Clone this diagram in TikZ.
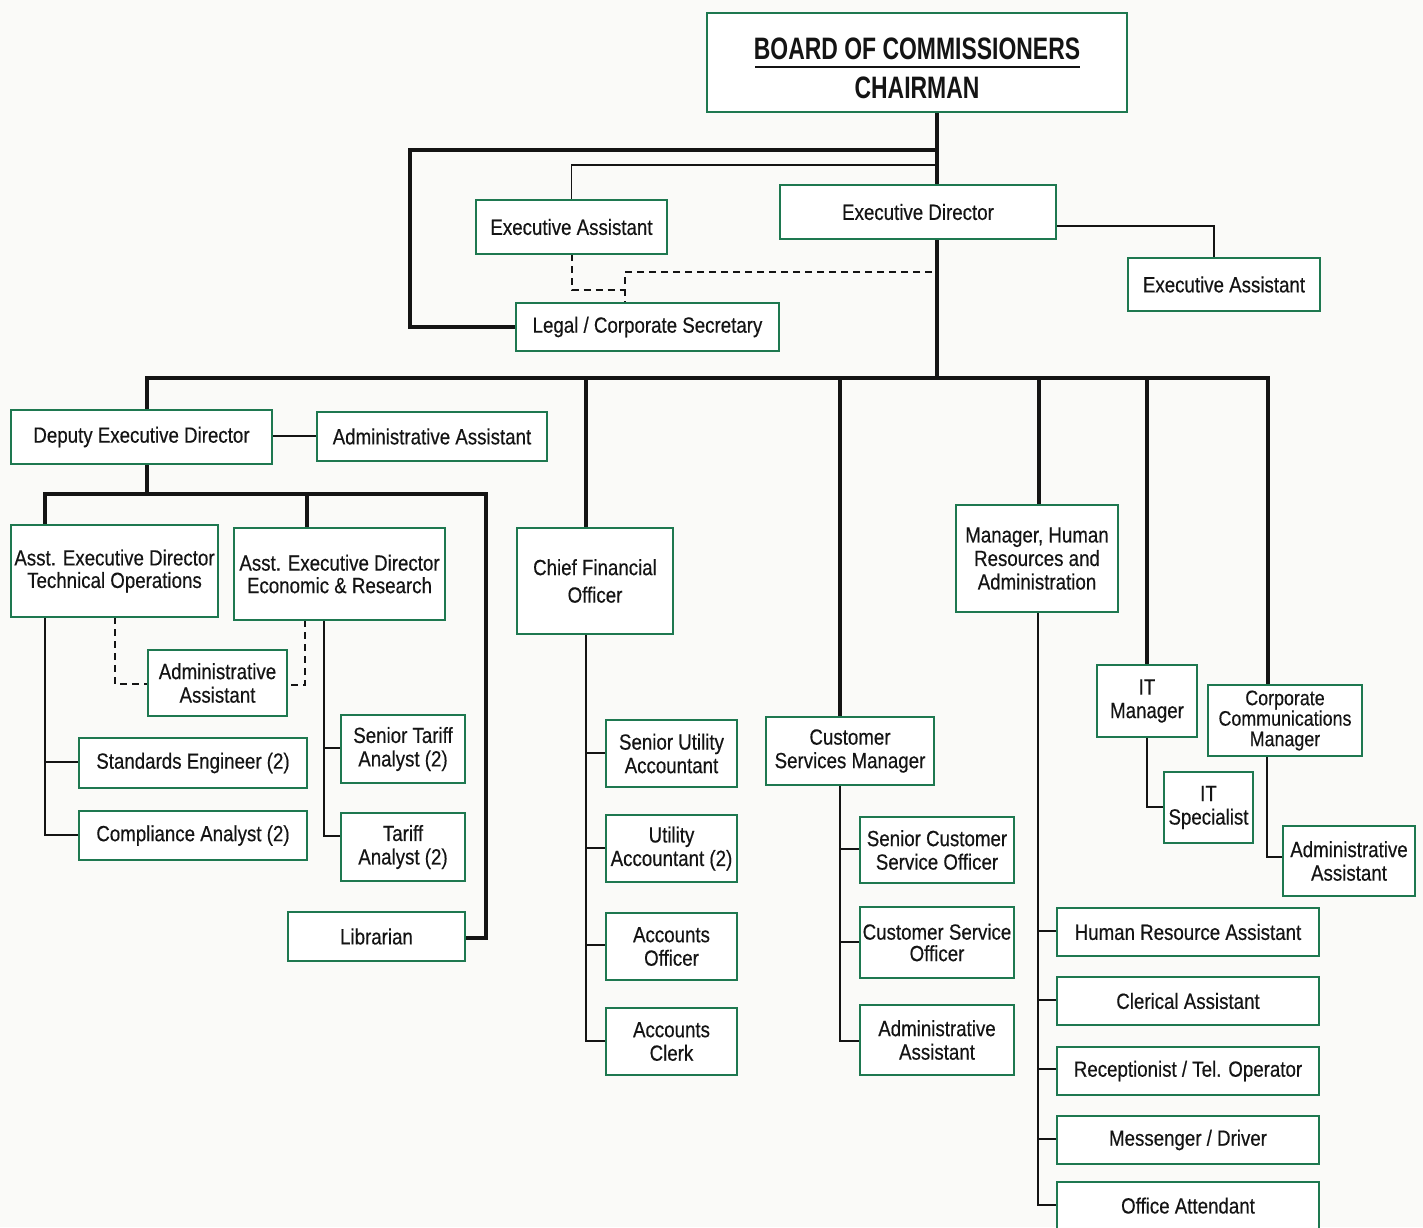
\documentclass[tikz,border=0pt]{standalone}
\usepackage{fontspec}
\setmainfont{Liberation Sans}[FakeStretch=0.85,FakeBold=0.4]
\newfontfamily\titlefont{Liberation Sans}[FakeStretch=0.74]
\definecolor{boxgreen}{RGB}{30,120,80}
\definecolor{ink}{RGB}{20,20,20}
\definecolor{paper}{RGB}{250,250,248}
\newcommand\bx[7][]{%
  \pgfmathsetmacro\bxcx{(#3+#5)/2}\pgfmathsetmacro\bxcy{(#4+#6)/2}%
  \pgfmathsetmacro\bxw{#5-#3}\pgfmathsetmacro\bxh{#6-#4}%
  \node[box,minimum width=\bxw pt,minimum height=\bxh pt,#1] (#2) at (\bxcx,\bxcy) {#7};}
\tikzset{
  box/.style={draw=boxgreen, line width=2.2pt, fill=white, inner sep=0pt, align=center,
    text=ink, font=\fontsize{22}{23.5}\selectfont},
  thickln/.style={draw=ink, line width=4pt},
  thinln/.style={draw=ink, line width=1.8pt},
  dashln/.style={draw=ink, line width=2pt, dash pattern=on 7pt off 5pt},
  titletxt/.style={font=\titlefont\fontsize{31}{34}\selectfont\bfseries, text=ink, inner sep=0pt}
}
\begin{document}
\begin{tikzpicture}[x=1pt,y=-1pt]
\useasboundingbox (0,0) rectangle (1423,1227);
\clip (0,0) rectangle (1423,1227);
\fill[paper] (0,0) rectangle (1423,1227);

% junction coordinates
\coordinate (j150) at (937,150);
\coordinate (j165) at (937,165);
\coordinate (jd272) at (932,272);
\coordinate (bus) at (937,378);

% connectors (drawn under boxes)
\draw[thickln] (937,112) -- (937,378);
\draw[thickln] (j150) -| (410,327) -- (516,327);
\draw[thinln] (j165) -| (571.5,200);
\draw[thinln] (1056,226) -| (1214,258);
\draw[dashln] (jd272) -| (625,303);
\draw[dashln] (571.5,254) |- (625,290);

\draw[thickln] (147,378) -- (1268,378);
\draw[thickln] (147,376) -- (147,410);
\draw[thickln] (586,378) -- (586,528);
\draw[thickln] (840,378) -- (840,717);
\draw[thickln] (1039,378) -- (1039,505);
\draw[thickln] (1147,378) -- (1147,665);
\draw[thickln] (1268,376) -- (1268,685);

\draw[thinln] (272,436) -- (317,436);
\draw[thickln] (147,464) -- (147,494);
\draw[thickln] (45,525) -- (45,494) -- (486,494) -- (486,938) -- (465,938);
\draw[thickln] (307,494) -- (307,528);

\draw[thinln] (45,617) |- (79,835);
\draw[thinln] (45,762) -- (79,762);
\draw[thinln] (324,620) |- (341,836);
\draw[thinln] (324,748) -- (341,748);
\draw[dashln] (115,617) |- (148,684);
\draw[dashln] (305,620) |- (287,685);

\draw[thinln] (586,634) |- (606,1041);
\foreach \y in {753,848,945} \draw[thinln] (586,\y) -- (606,\y);
\draw[thinln] (840,785) |- (860,1041);
\foreach \y in {849,942} \draw[thinln] (840,\y) -- (860,\y);
\draw[thinln] (1038,612) |- (1057,1205);
\foreach \y in {931,1000,1069,1139} \draw[thinln] (1038,\y) -- (1057,\y);
\draw[thinln] (1147,737) |- (1164,807);
\draw[thinln] (1267,756) |- (1283,857);

% boxes
\bx{board}{707}{13}{1127}{112}{}
\node[titletxt] (t1) at (917,48.5) {BOARD OF COMMISSIONERS};
\node[titletxt] (t2) at (917,87.5) {CHAIRMAN};
\draw[ink, line width=1.5pt] (755,67) -- (1080,67);

\bx{ea1}{476}{200}{667}{254}{Executive Assistant}
\bx{ed}{780}{185}{1056}{239}{Executive Director}
\bx{ea2}{1128}{258}{1320}{311}{Executive Assistant}
\bx{legal}{516}{303}{779}{351}{Legal / Corporate Secretary}

\bx{ded}{11}{410}{272}{464}{Deputy Executive Director}
\bx{aa1}{317}{412}{547}{461}{Administrative Assistant}
\bx{aedt}{11}{525}{218}{617}{Asst. Executive Director\\[-1pt]Technical Operations}
\bx{aede}{234}{528}{445}{620}{Asst. Executive Director\\[-1pt]Economic \& Research}
\bx{aa2}{148}{650}{287}{716}{Administrative\\Assistant}
\bx{se}{79}{738}{307}{788}{Standards Engineer (2)}
\bx{ca}{79}{811}{307}{860}{Compliance Analyst (2)}
\bx{sta}{341}{715}{465}{783}{Senior Tariff\\Analyst (2)}
\bx{ta}{341}{813}{465}{881}{Tariff\\Analyst (2)}
\bx{lib}{288}{912}{465}{961}{Librarian}

\bx{cfo}{517}{528}{673}{634}{Chief Financial\\[4pt]Officer}
\bx{sua}{606}{720}{737}{787}{Senior Utility\\Accountant}
\bx{ua}{606}{815}{737}{882}{Utility\\Accountant (2)}
\bx{ao}{606}{913}{737}{980}{Accounts\\Officer}
\bx{acl}{606}{1008}{737}{1075}{Accounts\\Clerk}

\bx{csm}{766}{717}{934}{785}{Customer\\Services Manager}
\bx{scso}{860}{817}{1014}{883}{Senior Customer\\Service Officer}
\bx{cso}{860}{907}{1014}{978}{Customer Service\\[-2pt]Officer}
\bx{aa3}{860}{1005}{1014}{1075}{Administrative\\Assistant}

\bx{hrm}{956}{505}{1118}{612}{Manager, Human\\Resources and\\Administration}
\bx{hra}{1057}{908}{1319}{956}{Human Resource Assistant}
\bx{cla}{1057}{977}{1319}{1025}{Clerical Assistant}
\bx{rec}{1057}{1047}{1319}{1095}{Receptionist / Tel. Operator}
\bx{msg}{1057}{1116}{1319}{1164}{Messenger / Driver}
\bx{oa}{1057}{1182}{1319}{1232}{\raisebox{3pt}{Office Attendant}}

\bx{itm}{1097}{665}{1197}{737}{IT\\Manager}
\bx{its}{1164}{772}{1253}{843}{IT\\Specialist}
\bx[font=\fontsize{21}{20.5}\selectfont]{ccm}{1208}{685}{1362}{756}{Corporate\\Communications\\Manager}
\bx{aa4}{1283}{826}{1415}{896}{Administrative\\Assistant}
\end{tikzpicture}
\end{document}
